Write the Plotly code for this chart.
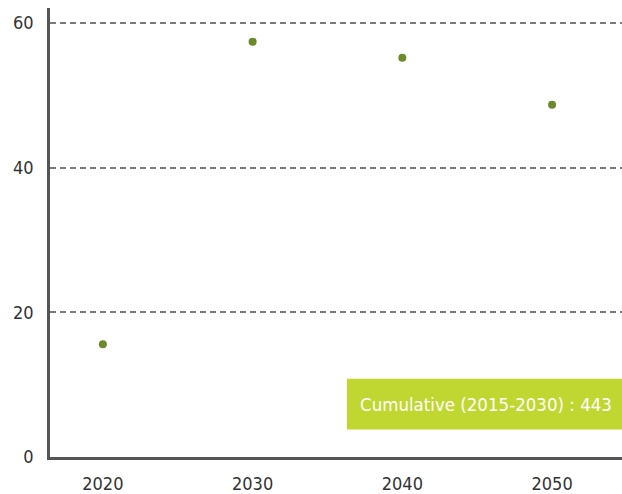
import plotly.graph_objects as go

# Annual values by milestone year
years = [2020, 2030, 2040, 2050]
values = [15.6, 57.4, 55.2, 48.7]
y_ticks = [0, 20, 40, 60]
x_ticks = [2020, 2030, 2040, 2050]
note_text = "Cumulative (2015-2030) : 443"

FONT = "DejaVu Sans Condensed, Liberation Sans Narrow, sans-serif"

fig = go.Figure()
fig.add_trace(go.Scatter(
    x=years, y=values, mode="markers",
    marker=dict(size=8, color="#6b8a2a"),
    hoverinfo="x+y",
))

# Highlight box with the cumulative total
fig.add_shape(type="rect", xref="paper", yref="paper",
              x0=0.519, x1=1.0, y0=0.061, y1=0.174,
              fillcolor="#bfd730", line=dict(width=0), layer="above")
fig.add_annotation(xref="paper", yref="paper", x=0.762, y=0.1175,
                   text=note_text, showarrow=False,
                   font=dict(family=FONT, size=18.5, color="white"),
                   xanchor="center", yanchor="middle")

fig.update_layout(
    width=622, height=494,
    margin=dict(l=50, r=0, t=8, b=28),
    paper_bgcolor="white", plot_bgcolor="white",
    showlegend=False,
    font=dict(family=FONT, size=18, color="#333333"),
    xaxis=dict(
        range=[2016.47, 2054.67],
        tickvals=x_ticks, ticktext=[str(v) for v in x_ticks],
        showgrid=False, zeroline=False,
        showline=True, linecolor="#555555", linewidth=2.5,
        ticks="", ticklabelstandoff=9,
        fixedrange=True,
    ),
    yaxis=dict(
        range=[0, 62.06],
        tickvals=y_ticks, ticktext=[str(v) for v in y_ticks],
        showgrid=True, gridcolor="#7a7a7a", gridwidth=1.5, griddash="6px,4px",
        zeroline=False,
        showline=True, linecolor="#555555", linewidth=2.5,
        ticks="", ticklabelstandoff=10,
        fixedrange=True,
    ),
)

fig.write_html("out.html")
